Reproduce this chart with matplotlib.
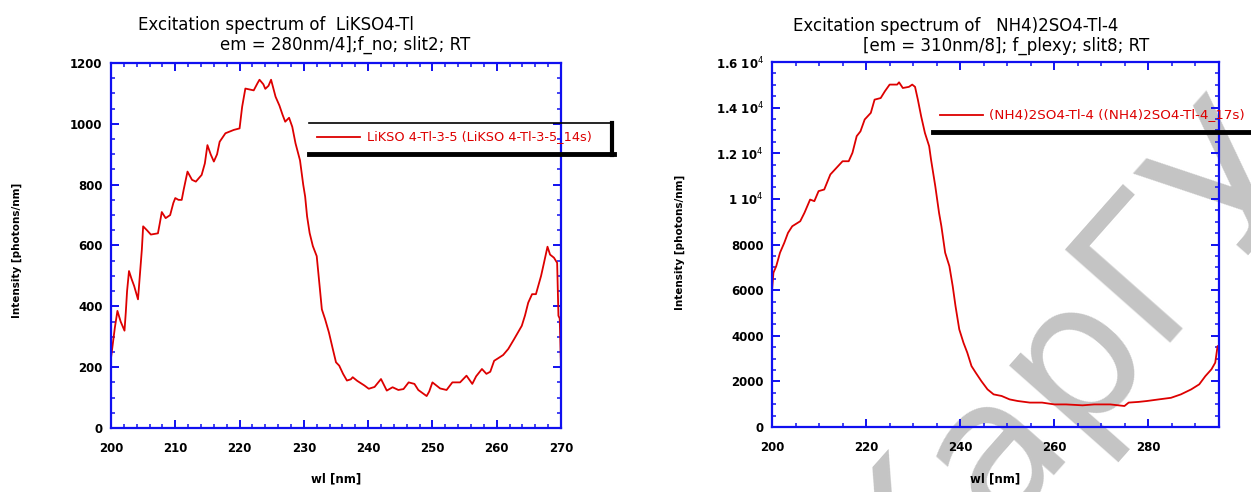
import numpy as np
import matplotlib
matplotlib.use("Agg")
import matplotlib.pyplot as plt
from matplotlib.lines import Line2D
from matplotlib.ticker import MultipleLocator

# LiKSO4-Tl, excitation spectrum (em = 280 nm)
left_wl = [200.0, 200.3, 200.6, 201.0, 201.5, 202.1, 202.3, 202.5, 202.8, 203.2,
           203.6, 204.2, 204.5, 204.8, 205.0, 205.6, 206.2, 207.3, 207.6, 207.9,
           208.5, 209.2, 209.7, 210.0, 210.5, 211.0, 211.3, 211.9, 212.6, 213.2,
           214.1, 214.6, 215.0, 215.5, 216.0, 216.5, 216.9, 217.8, 219.1, 220.0,
           220.4, 220.9, 222.2, 222.8, 223.1, 223.7, 224.0, 224.5, 224.9, 225.6,
           226.2, 226.7, 227.1, 227.7, 228.2, 228.7, 229.4, 229.9, 230.2, 230.5,
           230.9, 231.4, 232.0, 232.5, 232.8, 233.3, 233.9, 234.5, 235.0, 235.5,
           236.1, 236.7, 237.3, 237.6, 238.3, 239.4, 240.1, 241.0, 242.0, 242.9,
           243.8, 244.7, 245.5, 246.3, 247.2, 247.8, 249.1, 249.5, 250.0, 250.6,
           251.2, 252.2, 253.1, 254.3, 255.3, 255.7, 256.2, 256.8, 257.7, 258.4,
           259.0, 259.6, 260.2, 261.0, 261.8, 262.7, 263.3, 263.9, 264.4, 264.9,
           265.5, 266.1, 266.9, 267.3, 267.9, 268.3, 268.9, 269.4, 269.6, 269.8,
           270.0]
left_int = [230, 280, 330, 385, 350, 320, 380, 450, 516, 490,
            467, 423, 505, 587, 663, 650, 636, 640, 674, 710,
            690, 700, 740, 756, 750, 750, 783, 843, 816, 810,
            832, 870, 930, 900, 876, 900, 941, 969, 980, 985,
            1056, 1116, 1110, 1134, 1145, 1130, 1115, 1125, 1145, 1089,
            1060, 1029, 1007, 1020, 990, 936, 880, 800, 761, 696,
            641, 598, 565, 456, 390, 358, 314, 260, 216, 205,
            178, 156, 160, 167, 155, 140, 129, 135, 161, 123,
            134, 125, 128, 150, 145, 125, 105, 120, 150, 140,
            130, 125, 150, 150, 172, 160, 145, 170, 194, 178,
            185, 221, 229, 240, 260, 292, 314, 336, 370, 412,
            440, 440, 500, 538, 596, 570, 560, 543, 369, 360,
            200]

# (NH4)2SO4-Tl-4, excitation spectrum (em = 310 nm)
right_wl = [200.0, 200.3, 200.9, 201.7, 202.6, 203.4, 204.3, 206.0, 206.9, 208.1,
            209.0, 209.9, 211.1, 212.4, 213.7, 215.0, 216.3, 217.1, 218.0, 218.8,
            219.7, 221.0, 221.8, 223.1, 224.0, 225.0, 226.6, 227.0, 227.8, 229.1,
            229.8, 230.4, 231.0, 231.7, 232.5, 233.4, 233.8, 234.7, 235.5, 236.0,
            236.8, 237.7, 238.4, 239.0, 239.8, 240.7, 241.5, 242.4, 243.3, 244.5,
            245.8, 247.1, 248.8, 250.5, 252.2, 254.8, 257.4, 260.0, 262.5, 266.0,
            268.5, 271.9, 274.9, 275.8, 277.9, 279.7, 282.2, 284.8, 286.9, 289.1,
            290.8, 292.1, 293.4, 294.2, 294.7, 295.0]
right_int = [5960, 6760, 7050, 7640, 8070, 8510, 8800, 9020, 9390, 9970,
             9900, 10340, 10410, 11070, 11360, 11650, 11650, 12020, 12750, 12960,
             13480, 13770, 14350, 14420, 14720, 15010, 15010, 15110, 14860, 14910,
             15010, 14910, 14350, 13620, 12890, 12310, 11720, 10560, 9390, 8800,
             7640, 7050, 6180, 5300, 4280, 3690, 3260, 2670, 2380, 2010,
             1650, 1430, 1360, 1210, 1140, 1070, 1070, 990, 990, 950,
             990, 990, 920, 1070, 1100, 1140, 1210, 1280, 1430, 1650,
             1870, 2230, 2530, 2820, 3550, 3400]

right_yticks = [0, 2000, 4000, 6000, 8000, 10000, 12000, 14000, 16000]
right_ylabels = ["0", "2000", "4000", "6000", "8000",
                 "1 10$^4$", "1.2 10$^4$", "1.4 10$^4$", "1.6 10$^4$"]

W, H = 1251, 492
def fx(x):
    return x / W
def fy(y):
    return 1 - y / H

fig = plt.figure(figsize=(12.51, 4.92), dpi=100)

# watermark, behind the plots
fig.text(fx(902), fy(625), "КарГУ", rotation=48.5, rotation_mode="anchor",
         ha="left", va="baseline", fontsize=139, color="#c4c4c4", zorder=-1,
         family="DejaVu Sans")

ax1 = fig.add_axes([fx(111), fy(428), (561 - 111) / W, (428 - 63) / H])
ax2 = fig.add_axes([fx(772), fy(427), (1219 - 772) / W, (427 - 62) / H])

blue = "#1010f0"
for ax in (ax1, ax2):
    ax.set_facecolor("none")
    for s in ax.spines.values():
        s.set_color(blue)
        s.set_linewidth(1.6)
    ax.tick_params(which="both", direction="in", top=True, right=True, color=blue)
    ax.tick_params(which="major", length=6, width=1.4)
    ax.tick_params(which="minor", length=3, width=1.1)
    ax.tick_params(axis="x", pad=10)
    ax.tick_params(axis="y", pad=6)

ax1.plot(left_wl, left_int, color="#dd0000", lw=1.3)
ax1.set_xlim(200, 270)
ax1.set_ylim(0, 1200)
ax1.xaxis.set_major_locator(MultipleLocator(10))
ax1.xaxis.set_minor_locator(MultipleLocator(2))
ax1.yaxis.set_major_locator(MultipleLocator(200))
ax1.yaxis.set_minor_locator(MultipleLocator(50))

ax2.plot(right_wl, right_int, color="#dd0000", lw=1.3)
ax2.set_xlim(200, 295)
ax2.set_ylim(0, 16000)
ax2.xaxis.set_major_locator(MultipleLocator(20))
ax2.xaxis.set_minor_locator(MultipleLocator(5))
ax2.set_yticks(right_yticks)
ax2.set_yticklabels(right_ylabels)
ax2.yaxis.set_minor_locator(MultipleLocator(500))

for ax in (ax1, ax2):
    for lab in ax.get_xticklabels() + ax.get_yticklabels():
        lab.set_fontweight("bold")
        lab.set_fontsize(8.5)

# axis labels
lbl = dict(fontsize=7.5, fontweight="bold", ha="center", va="center")
fig.text(fx(17), fy(250), "Intensity [photons/nm]", rotation=90, **lbl)
fig.text(fx(680), fy(242), "Intensity [photons/nm]", rotation=90, **lbl)
lbl["fontsize"] = 8.5
fig.text(fx(336), fy(479), "wl [nm]", **lbl)
fig.text(fx(995), fy(479), "wl [nm]", **lbl)

# titles
tt = dict(fontsize=12, family="DejaVu Sans", ha="left", va="center")
fig.text(fx(138), fy(25), "Excitation spectrum of  LiKSO4-Tl", **tt)
fig.text(fx(220), fy(45), "em = 280nm/4];f_no; slit2; RT", **tt)
fig.text(fx(793), fy(26), "Excitation spectrum of   NH4)2SO4-Tl-4", **tt)
fig.text(fx(863), fy(46), "[em = 310nm/8]; f_plexy; slit8; RT", **tt)

# legend boxes (drawn by hand, they stick out of the axes)
def fline(x0, y0, x1, y1, **kw):
    fig.add_artist(Line2D([fx(x0), fx(x1)], [fy(y0), fy(y1)],
                          transform=fig.transFigure, **kw))

fline(309, 123, 612, 123, color="black", lw=1.2)
fline(309, 154, 614, 154, color="black", lw=3.5)
fline(612, 123, 612, 155, color="black", lw=3)
fline(317, 137, 360, 137, color="#dd0000", lw=1.3)
fig.text(fx(367), fy(137), "LiKSO 4-Tl-3-5 (LiKSO 4-Tl-3-5_14s)", color="#dd0000",
         fontsize=9.3, ha="left", va="center")

fline(933, 131.5, 1251, 131.5, color="black", lw=3.5)
fline(940, 115, 983, 115, color="#dd0000", lw=1.3)
fig.text(fx(989), fy(115), "(NH4)2SO4-Tl-4 ((NH4)2SO4-Tl-4_17s)", color="#dd0000",
         fontsize=9.7, ha="left", va="center")

fig.savefig("out.png", dpi=100)
